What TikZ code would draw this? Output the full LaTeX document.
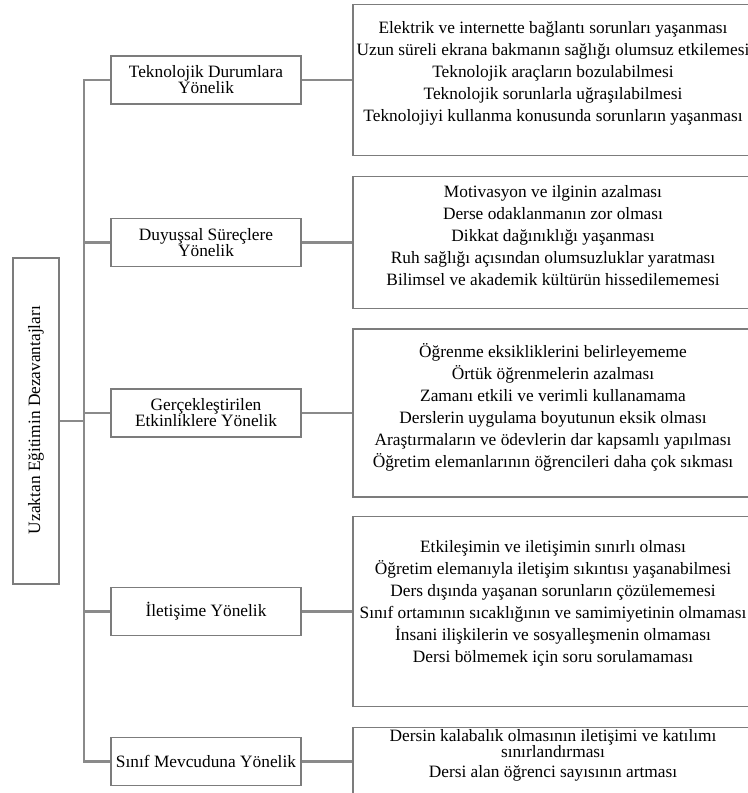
\documentclass[tikz,border=0pt]{standalone}
\usepackage{fontspec}
\setmainfont{Liberation Serif}
\definecolor{linegray}{HTML}{8A8A8A}
\definecolor{boxgray}{HTML}{7C7C7C}
\tikzset{
  conn/.style={draw=linegray, line width=2.2pt},
  catbox/.style={draw=boxgray, line width=0.9pt, fill=white, minimum width=142.5pt, minimum height=36pt, align=center, inner sep=0pt, font=\fontsize{13}{12}\selectfont},
  detbox/.style={draw=boxgray, line width=0.9pt, fill=white, minimum width=300pt, inner sep=0pt},
  dettext/.style={align=center, inner sep=0pt, font=\fontsize{13}{16.5}\selectfont}
}
\begin{document}
\begin{tikzpicture}[x=0.75pt, y=-0.75pt]
\useasboundingbox (0,0) rectangle (747,793);

\node[draw=boxgray, line width=0.9pt, minimum width=34.5pt, minimum height=244.5pt, inner sep=0pt] (root) at (36,421){};
\node[rotate=90, font=\fontsize{13}{14}\selectfont] (roottxt) at (36,420){Uzaktan Eğitimin Dezavantajları};
\coordinate (sp) at (84,421);

\node[catbox] (cat0) at (206,80){Teknolojik Durumlara\\Yönelik};
\node[catbox] (cat1) at (206,242.5){Duyuşsal Süreçlere\\Yönelik};
\node[catbox] (cat2) at (206,413){Gerçekleştirilen\\Etkinliklere Yönelik};
\node[catbox] (cat3) at (206,611.5){İletişime Yönelik};
\node[catbox] (cat4) at (206,761.5){Sınıf Mevcuduna Yönelik};

\node[detbox, minimum height=113pt] (det0) at (553,80){};
\node[detbox, minimum height=99pt] (det1) at (553,242.5){};
\node[detbox, minimum height=126pt] (det2) at (553,413){};
\node[detbox, minimum height=142pt] (det3) at (553,611.5){};
\node[detbox, minimum height=51pt] (det4) at (553,761.5){};

\node[dettext] (txt0) at (553,73.5){Elektrik ve internette bağlantı sorunları yaşanması\\
Uzun süreli ekrana bakmanın sağlığı olumsuz etkilemesi\\
Teknolojik araçların bozulabilmesi\\
Teknolojik sorunlarla uğraşılabilmesi\\
Teknolojiyi kullanma konusunda sorunların yaşanması};
\node[dettext] (txt1) at (553,236){Motivasyon ve ilginin azalması\\
Derse odaklanmanın zor olması\\
Dikkat dağınıklığı yaşanması\\
Ruh sağlığı açısından olumsuzluklar yaratması\\
Bilimsel ve akademik kültürün hissedilememesi};
\node[dettext] (txt2) at (553,407.5){Öğrenme eksikliklerini belirleyememe\\
Örtük öğrenmelerin azalması\\
Zamanı etkili ve verimli kullanamama\\
Derslerin uygulama boyutunun eksik olması\\
Araştırmaların ve ödevlerin dar kapsamlı yapılması\\
Öğretim elemanlarının öğrencileri daha çok sıkması};
\node[dettext] (txt3) at (553,603){Etkileşimin ve iletişimin sınırlı olması\\
Öğretim elemanıyla iletişim sıkıntısı yaşanabilmesi\\
Ders dışında yaşanan sorunların çözülememesi\\
Sınıf ortamının sıcaklığının ve samimiyetinin olmaması\\
İnsani ilişkilerin ve sosyalleşmenin olmaması\\
Dersi bölmemek için soru sorulamaması};
\node[dettext, font=\fontsize{13}{12}\selectfont] (txt4) at (553,755){Dersin kalabalık olmasının iletişimi ve katılımı\\
sınırlandırması\\[3pt]
Dersi alan öğrenci sayısının artması};

% spine and branches
\draw[conn] (root.east) -- (sp);
\draw[conn] (cat0.west) -| (sp);
\draw[conn] (cat1.west) -| (sp);
\draw[conn] (cat2.west) -| (sp);
\draw[conn] (cat3.west) -| (sp);
\draw[conn] (cat4.west) -| (sp);

\draw[conn] (cat0.east) -- (det0.west);
\draw[conn] (cat1.east) -- (det1.west);
\draw[conn] (cat2.east) -- (det2.west);
\draw[conn] (cat3.east) -- (det3.west);
\draw[conn] (cat4.east) -- (det4.west);

\end{tikzpicture}
\end{document}
